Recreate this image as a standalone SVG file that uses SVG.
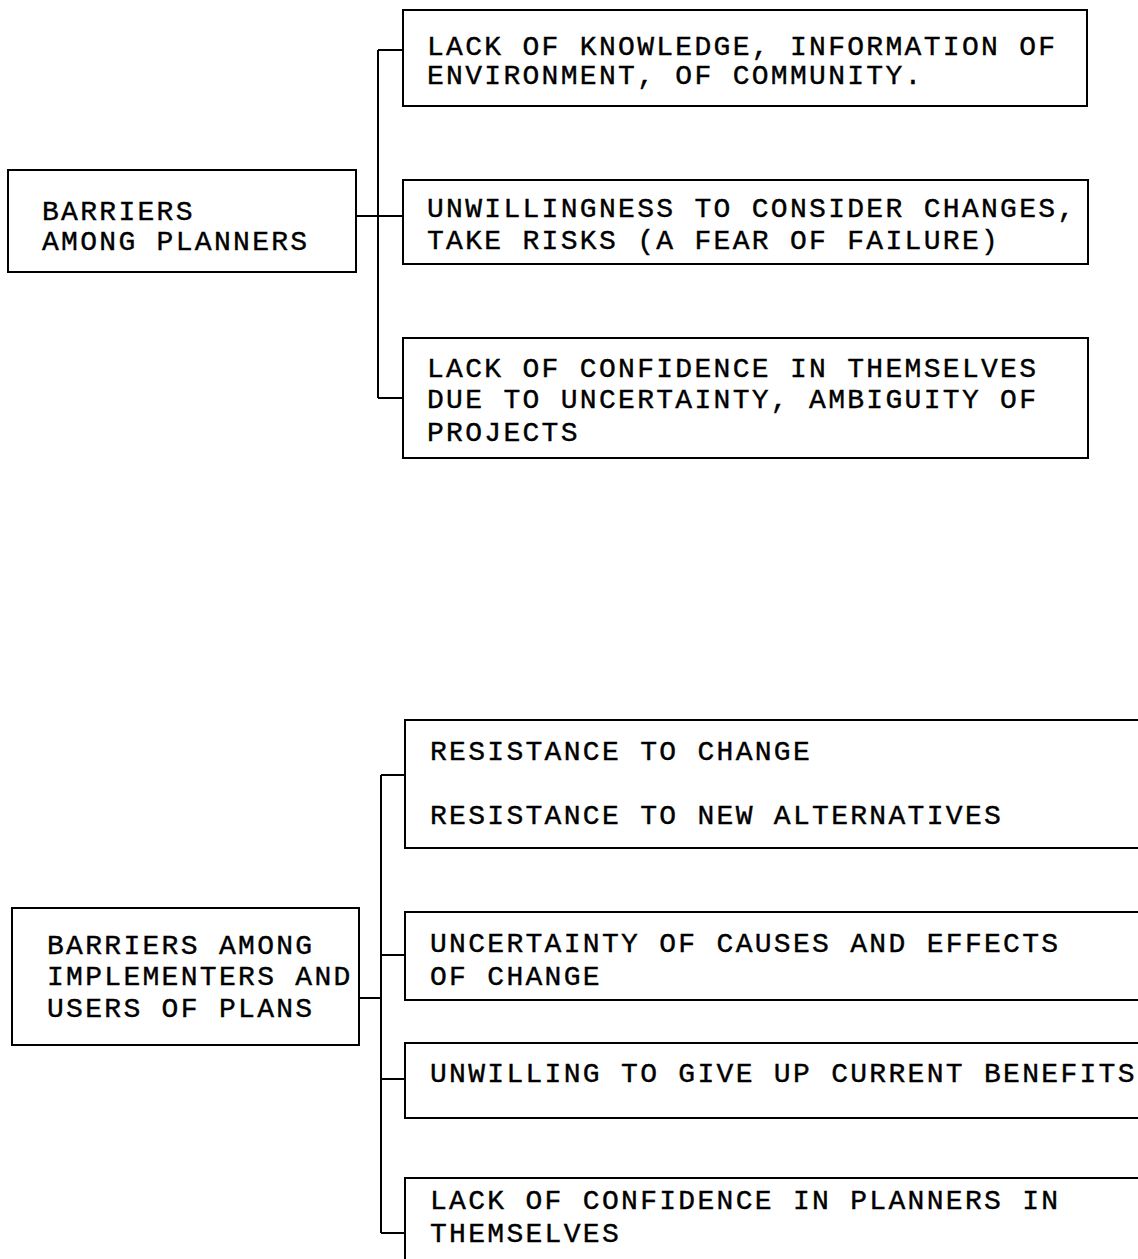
<svg xmlns="http://www.w3.org/2000/svg" width="1138" height="1259" viewBox="0 0 1138 1259">
<style>
rect{fill:#fff;stroke:#000;stroke-width:2}
.c{fill:none;stroke:#000;stroke-width:2}
text{font-family:"Liberation Mono","Courier New",monospace;font-size:28px;letter-spacing:2.3px;fill:#000;stroke:#000;stroke-width:0.4}
</style>
<rect x="0" y="0" width="1138" height="1259" style="stroke:none"/>
<g id="connectors">
<path class="c" d="M356 216H378M378 50V398M378 50H403M378 216H403M378 398H403"/>
<path class="c" d="M359 998H381M381 775V1233M381 775H405M381 955H405M381 1079H405M381 1233H405"/>
</g>
<g id="planners">
<rect x="8" y="170" width="348" height="102"/>
<text x="42" y="220">BARRIERS</text>
<text x="42" y="250">AMONG PLANNERS</text>
</g>
<g id="p1">
<rect x="403" y="10" width="684" height="96"/>
<text x="427" y="55">LACK OF KNOWLEDGE, INFORMATION OF</text>
<text x="427" y="84">ENVIRONMENT, OF COMMUNITY.</text>
</g>
<g id="p2">
<rect x="403" y="180" width="685" height="84"/>
<text x="427" y="217">UNWILLINGNESS TO CONSIDER CHANGES,</text>
<text x="427" y="249">TAKE RISKS (A FEAR OF FAILURE)</text>
</g>
<g id="p3">
<rect x="403" y="338" width="685" height="120"/>
<text x="427" y="377">LACK OF CONFIDENCE IN THEMSELVES</text>
<text x="427" y="408">DUE TO UNCERTAINTY, AMBIGUITY OF</text>
<text x="427" y="441">PROJECTS</text>
</g>
<g id="implementers">
<rect x="12" y="908" width="347" height="137"/>
<text x="47" y="954">BARRIERS AMONG</text>
<text x="47" y="985">IMPLEMENTERS AND</text>
<text x="47" y="1017">USERS OF PLANS</text>
</g>
<g id="i1">
<rect x="405" y="720" width="750" height="128"/>
<text x="430" y="760">RESISTANCE TO CHANGE</text>
<text x="430" y="824">RESISTANCE TO NEW ALTERNATIVES</text>
</g>
<g id="i2">
<rect x="405" y="912" width="750" height="88"/>
<text x="430" y="952">UNCERTAINTY OF CAUSES AND EFFECTS</text>
<text x="430" y="985">OF CHANGE</text>
</g>
<g id="i3">
<rect x="405" y="1043" width="750" height="75"/>
<text x="430" y="1082">UNWILLING TO GIVE UP CURRENT BENEFITS</text>
</g>
<g id="i4">
<rect x="405" y="1178" width="750" height="100"/>
<text x="430" y="1209">LACK OF CONFIDENCE IN PLANNERS IN</text>
<text x="430" y="1242">THEMSELVES</text>
</g>
</svg>
